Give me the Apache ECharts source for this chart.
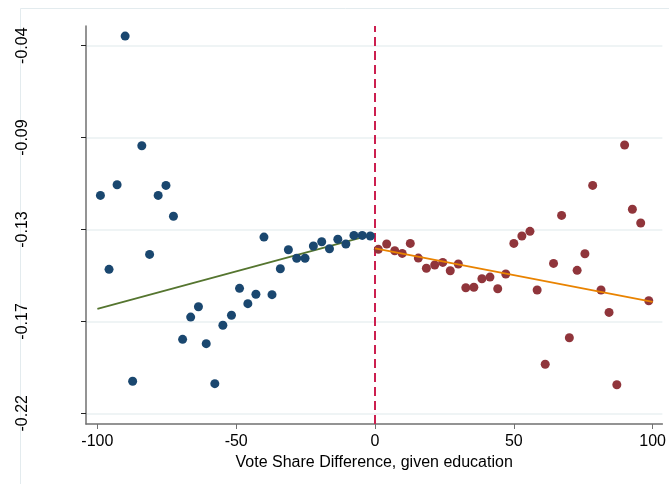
<!DOCTYPE html>
<html>
<head>
<meta charset="utf-8">
<script src="https://cdn.jsdelivr.net/npm/echarts@6/dist/echarts.min.js"></script>
<style>
html,body{margin:0;padding:0;background:#fff;}
#c{width:669px;height:484px;}
</style>
</head>
<body>
<div id="c"></div>
<script>
// Data
var leftX = [-98.9,-95.8,-92.9,-90.0,-87.3,-84.0,-81.2,-78.1,-75.3,-72.6,-69.3,-66.4,-63.6,-60.8,-57.7,-54.8,-51.7,-48.8,-45.8,-42.9,-40.0,-37.1,-34.1,-31.2,-28.2,-25.2,-22.2,-19.2,-16.4,-13.4,-10.5,-7.6,-4.6,-1.7];
var leftY = [-0.1133,-0.1495,-0.1081,-0.0353,-0.2043,-0.0890,-0.1422,-0.1133,-0.1084,-0.1235,-0.1838,-0.1729,-0.1678,-0.1859,-0.2055,-0.1769,-0.1720,-0.1588,-0.1663,-0.1617,-0.1337,-0.1619,-0.1492,-0.1399,-0.1441,-0.1441,-0.1381,-0.1360,-0.1394,-0.1348,-0.1371,-0.1329,-0.1329,-0.1332];
var rightX = [1.2,4.2,7.1,9.8,12.7,15.6,18.5,21.5,24.4,27.1,30.0,32.7,35.6,38.5,41.4,44.2,47.1,50.0,52.9,55.8,58.4,61.3,64.3,67.2,70.0,72.8,75.6,78.4,81.4,84.3,87.1,89.9,92.7,95.7,98.6];
var rightY = [-0.1397,-0.1371,-0.1404,-0.1417,-0.1368,-0.1440,-0.1490,-0.1474,-0.1461,-0.1502,-0.1469,-0.1585,-0.1583,-0.1541,-0.1533,-0.1590,-0.1518,-0.1368,-0.1332,-0.1309,-0.1596,-0.1960,-0.1466,-0.1231,-0.1830,-0.1500,-0.1419,-0.1084,-0.1596,-0.1706,-0.2060,-0.0886,-0.1201,-0.1268,-0.1649];
var leftFitX = [-100, 0];
var leftFitY = [-0.1689, -0.1321];
var rightFitX = [0, 100];
var rightFitY = [-0.1392, -0.1654];
var xTickValues = [-100, -50, 0, 50, 100];
var yTickValues = [-0.22, -0.175, -0.13, -0.085, -0.04];
var yTickLabels = ['-0.22', '-0.17', '-0.13', '-0.09', '-0.04'];
var cutoff = 0;
var xTitle = 'Vote Share Difference, given education';

function zip(xs, ys) { return xs.map(function (x, i) { return [x, ys[i]]; }); }

var chart = echarts.init(document.getElementById('c'), null, {renderer: 'canvas'});
var font = 'Liberation Sans, Arial, sans-serif';
chart.setOption({
  animation: false,
  backgroundColor: '#fff',
  graphic: [{
    type: 'rect', z: -10, silent: true,
    shape: {x: 20.5, y: 8.5, width: 700, height: 500},
    style: {fill: null, stroke: '#e3ebee', lineWidth: 1}
  }],
  grid: {left: 86, top: 26, right: 6, bottom: 60, containLabel: false},
  xAxis: {
    type: 'value', min: -104.1, max: 103.5,
    name: xTitle, nameLocation: 'middle', nameGap: 27,
    nameTextStyle: {fontFamily: font, fontSize: 16, color: '#000'},
    axisLine: {show: true, onZero: false, lineStyle: {color: '#707070', width: 1.5}},
    axisTick: {show: true, customValues: xTickValues, length: 5, lineStyle: {color: '#707070', width: 1}},
    axisLabel: {customValues: xTickValues, fontFamily: font, fontSize: 16, color: '#000', margin: 10},
    splitLine: {show: false}
  },
  yAxis: {
    type: 'value', min: -0.22524, max: -0.03035,
    axisLine: {show: true, onZero: false, lineStyle: {color: '#707070', width: 1.5}},
    axisTick: {show: true, customValues: yTickValues, length: 5, lineStyle: {color: '#222', width: 1}},
    axisLabel: {
      customValues: yTickValues, rotate: 90, margin: 55,
      fontFamily: font, fontSize: 16, color: '#000',
      formatter: function (v) {
        for (var i = 0; i < yTickValues.length; i++) {
          if (Math.abs(v - yTickValues[i]) < 1e-6) return yTickLabels[i];
        }
        return '';
      }
    },
    splitLine: {show: true, lineStyle: {color: '#eaf0f2', width: 1.5}}
  },
  series: [
    {
      type: 'scatter', data: zip(leftX, leftY), symbolSize: 9,
      itemStyle: {color: '#1a476f', opacity: 1}, z: 5
    },
    {
      type: 'scatter', data: zip(rightX, rightY), symbolSize: 9,
      itemStyle: {color: '#90353b', opacity: 1}, z: 5
    },
    {
      type: 'line', data: zip(leftFitX, leftFitY), symbol: 'none',
      lineStyle: {color: '#55752f', width: 1.8}, z: 4
    },
    {
      type: 'line', data: zip(rightFitX, rightFitY), symbol: 'none',
      lineStyle: {color: '#e98300', width: 1.8}, z: 6,
      markLine: {
        silent: true, symbol: 'none', label: {show: false},
        lineStyle: {color: '#cc1f4f', width: 2, type: [9, 5]},
        data: [{xAxis: cutoff}]
      }
    }
  ]
});
</script>
</body>
</html>
